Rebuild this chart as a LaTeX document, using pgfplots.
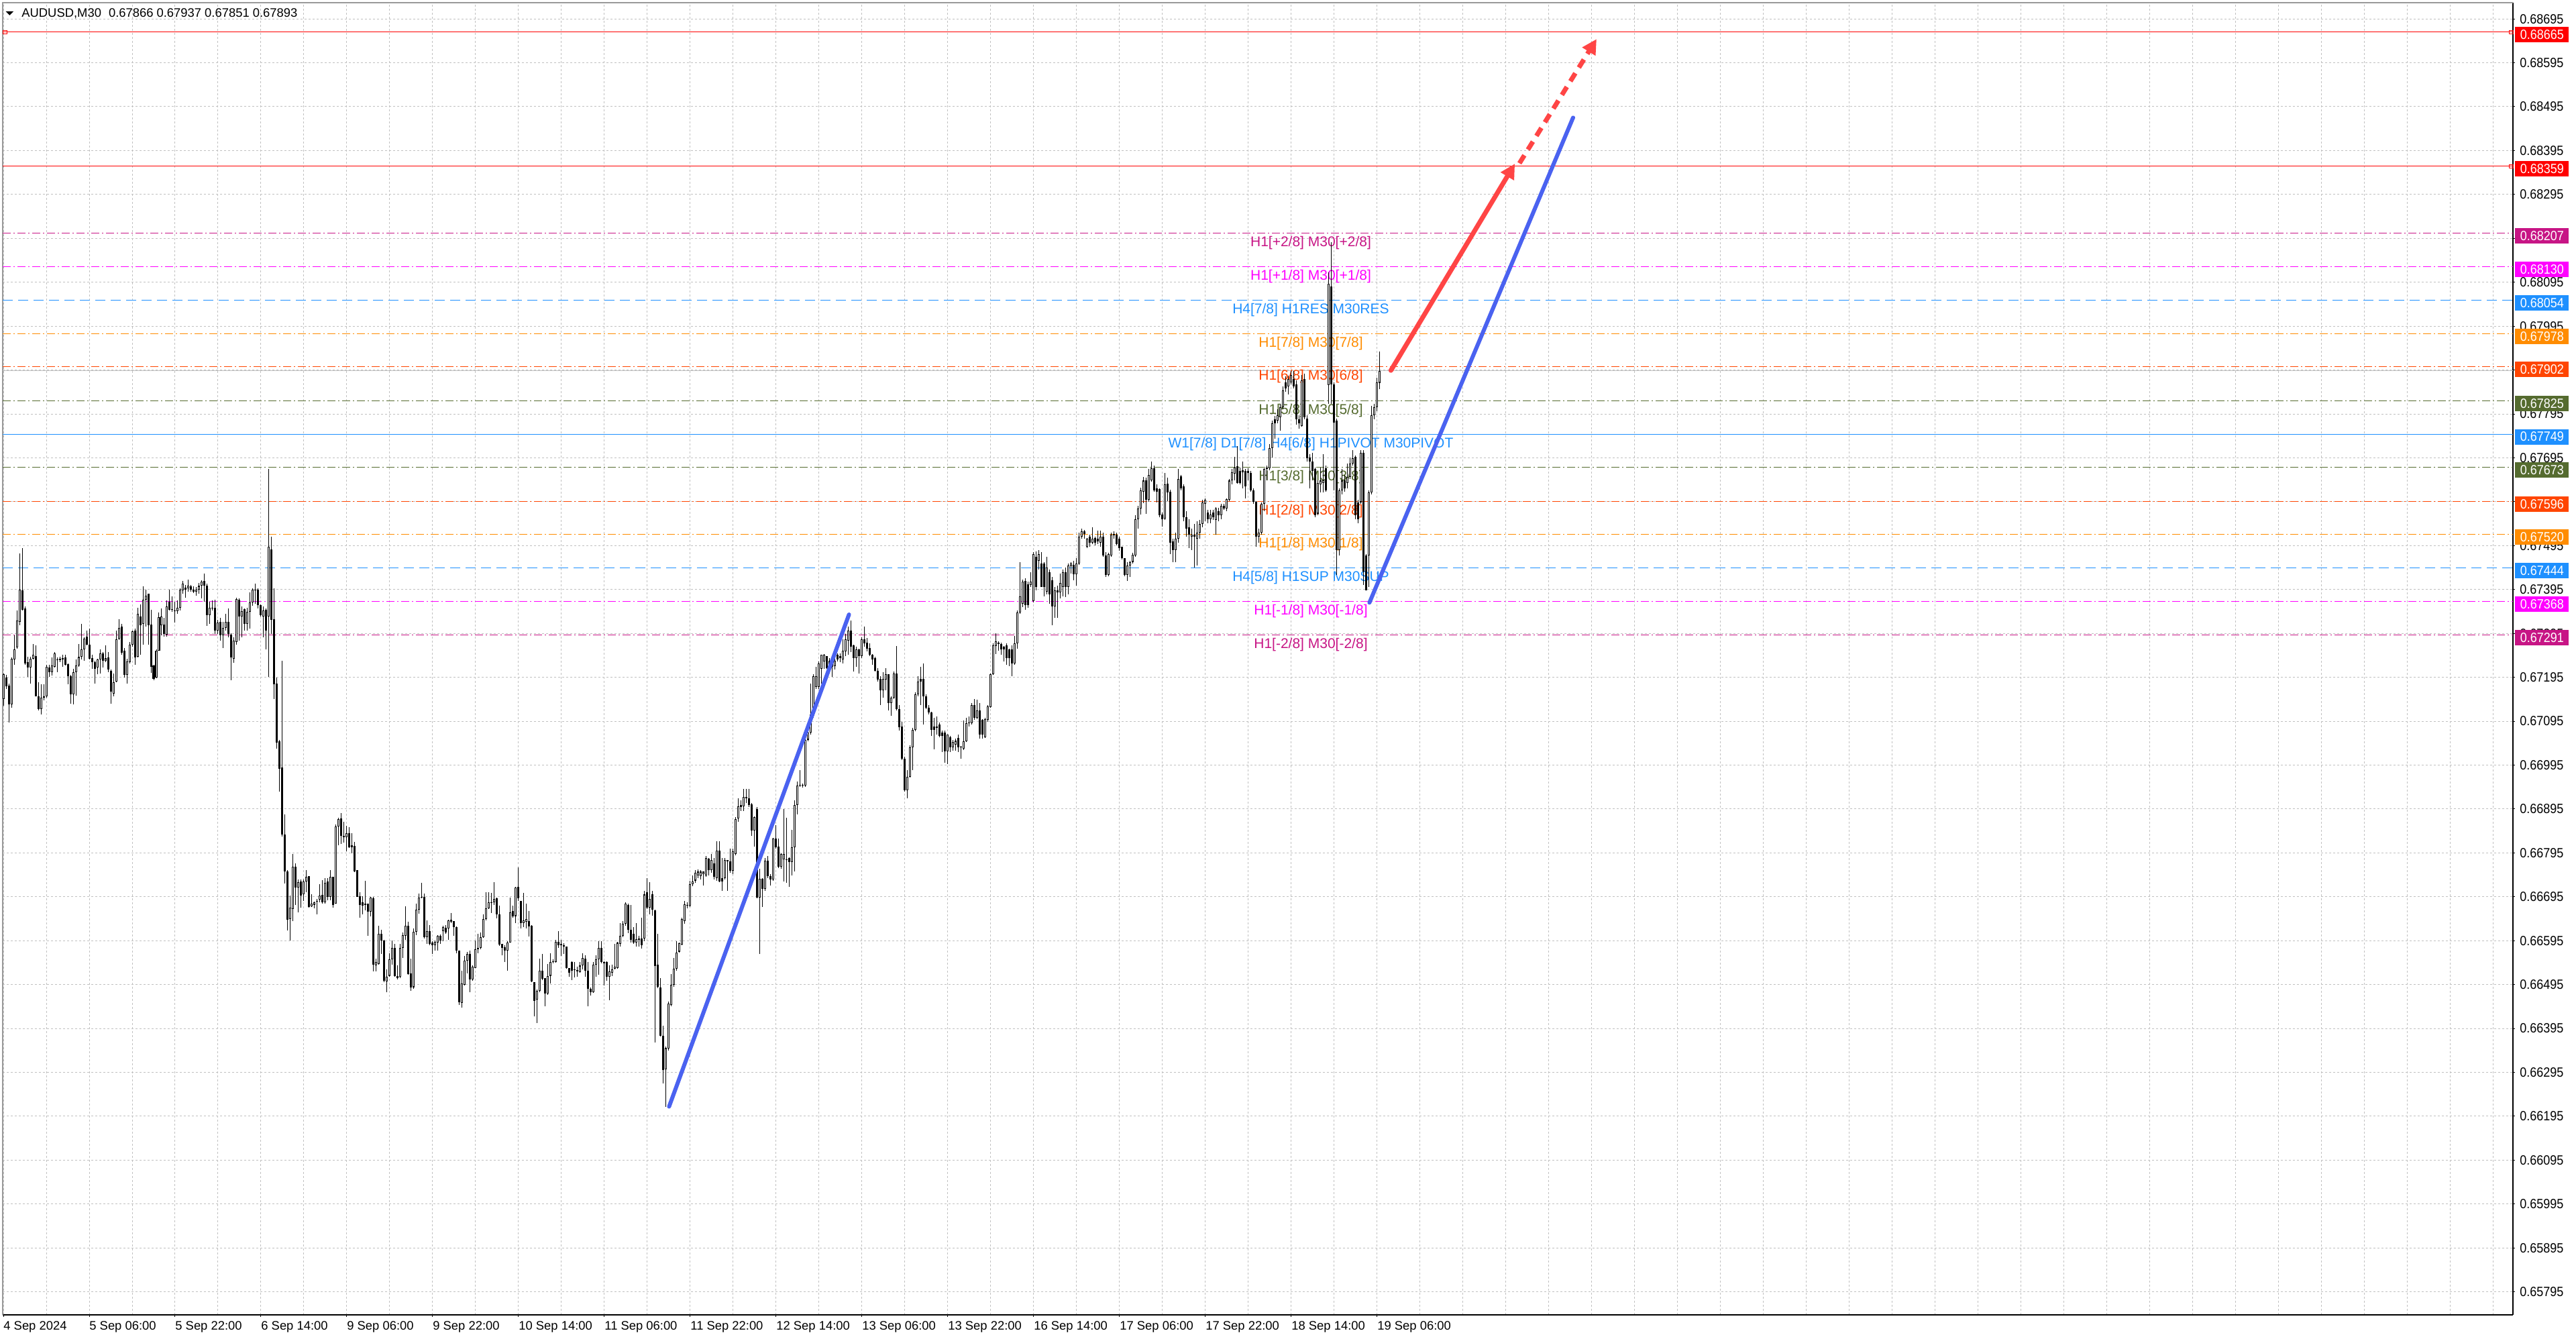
\documentclass[border=0pt]{standalone}
\usepackage{fontspec}
\setmainfont{Liberation Sans}
\newfontfamily\tickfont{Liberation Sans}[FakeStretch=0.9]
\usepackage{pgfplots}
\usepackage{pgfplotstable}
\pgfplotsset{compat=1.18}
\usetikzlibrary{arrows.meta}
\definecolor{mvred}{HTML}{C71585}
\definecolor{magl}{HTML}{FF00FF}
\definecolor{dblue}{HTML}{1E90FF}
\definecolor{dorange}{HTML}{FF8C00}
\definecolor{ored}{HTML}{FF4500}
\definecolor{olivel}{HTML}{556B2F}
\definecolor{gridc}{HTML}{C0C0C0}
\definecolor{trendred}{HTML}{FF4545}
\definecolor{trendblue}{HTML}{4A62F0}
\newcommand\lvlfont{\fontsize{10.5pt}{12pt}\selectfont}
\newcommand\tfont{\tickfont\fontsize{10pt}{12pt}\selectfont}
\pgfplotstableread{
i o h l c
1 0.67146 0.67204 0.67130 0.67202
2 0.67195 0.67201 0.67168 0.67174
3 0.67176 0.67180 0.67092 0.67133
4 0.67133 0.67240 0.67125 0.67237
5 0.67235 0.67291 0.67224 0.67259
6 0.67263 0.67347 0.67260 0.67324
7 0.67321 0.67477 0.67314 0.67394
8 0.67393 0.67490 0.67347 0.67349
9 0.67352 0.67357 0.67224 0.67227
10 0.67229 0.67242 0.67196 0.67217
11 0.67217 0.67242 0.67180 0.67237
12 0.67237 0.67271 0.67235 0.67246
13 0.67244 0.67268 0.67151 0.67152
14 0.67152 0.67184 0.67120 0.67123
15 0.67123 0.67179 0.67110 0.67148
16 0.67148 0.67179 0.67143 0.67152
17 0.67152 0.67224 0.67148 0.67219
18 0.67218 0.67224 0.67196 0.67207
19 0.67207 0.67240 0.67199 0.67222
20 0.67219 0.67252 0.67217 0.67250
21 0.67235 0.67240 0.67207 0.67234
22 0.67234 0.67242 0.67230 0.67237
23 0.67235 0.67247 0.67219 0.67239
24 0.67240 0.67247 0.67222 0.67224
25 0.67225 0.67227 0.67179 0.67198
26 0.67198 0.67201 0.67135 0.67156
27 0.67156 0.67214 0.67133 0.67207
28 0.67207 0.67235 0.67153 0.67222
29 0.67222 0.67271 0.67219 0.67241
30 0.67241 0.67317 0.67235 0.67259
31 0.67259 0.67286 0.67232 0.67283
32 0.67287 0.67301 0.67268 0.67270
33 0.67269 0.67306 0.67235 0.67237
34 0.67239 0.67247 0.67214 0.67229
35 0.67229 0.67232 0.67181 0.67214
36 0.67217 0.67237 0.67202 0.67235
37 0.67235 0.67258 0.67204 0.67250
38 0.67249 0.67252 0.67217 0.67232
39 0.67233 0.67268 0.67230 0.67238
40 0.67240 0.67252 0.67207 0.67212
41 0.67210 0.67213 0.67135 0.67163
42 0.67158 0.67204 0.67152 0.67184
43 0.67185 0.67302 0.67184 0.67281
44 0.67283 0.67327 0.67280 0.67308
45 0.67310 0.67317 0.67247 0.67251
46 0.67256 0.67261 0.67194 0.67200
47 0.67200 0.67237 0.67181 0.67231
48 0.67230 0.67275 0.67227 0.67269
49 0.67269 0.67301 0.67265 0.67300
50 0.67301 0.67306 0.67224 0.67240
51 0.67242 0.67354 0.67240 0.67340
52 0.67334 0.67361 0.67247 0.67314
53 0.67316 0.67402 0.67270 0.67372
54 0.67372 0.67394 0.67311 0.67381
55 0.67385 0.67386 0.67270 0.67314
56 0.67315 0.67349 0.67205 0.67219
57 0.67222 0.67224 0.67188 0.67191
58 0.67194 0.67259 0.67193 0.67256
59 0.67256 0.67342 0.67255 0.67332
60 0.67314 0.67352 0.67291 0.67334
61 0.67315 0.67331 0.67288 0.67293
62 0.67292 0.67370 0.67288 0.67357
63 0.67367 0.67395 0.67347 0.67349
64 0.67349 0.67380 0.67344 0.67348
65 0.67347 0.67367 0.67319 0.67346
66 0.67346 0.67370 0.67339 0.67353
67 0.67353 0.67398 0.67347 0.67394
68 0.67393 0.67414 0.67385 0.67409
69 0.67399 0.67405 0.67377 0.67395
70 0.67398 0.67418 0.67390 0.67404
71 0.67402 0.67405 0.67390 0.67394
72 0.67395 0.67402 0.67387 0.67390
73 0.67390 0.67400 0.67381 0.67395
74 0.67394 0.67410 0.67385 0.67403
75 0.67403 0.67416 0.67375 0.67413
76 0.67414 0.67432 0.67367 0.67403
77 0.67403 0.67408 0.67312 0.67337
78 0.67337 0.67367 0.67317 0.67353
79 0.67354 0.67370 0.67347 0.67352
80 0.67354 0.67372 0.67293 0.67301
81 0.67301 0.67326 0.67293 0.67320
82 0.67321 0.67331 0.67278 0.67291
83 0.67291 0.67321 0.67261 0.67308
84 0.67308 0.67339 0.67301 0.67321
85 0.67321 0.67352 0.67286 0.67293
86 0.67292 0.67296 0.67189 0.67240
87 0.67237 0.67286 0.67228 0.67279
88 0.67275 0.67376 0.67270 0.67373
89 0.67371 0.67375 0.67278 0.67334
90 0.67334 0.67357 0.67286 0.67346
91 0.67350 0.67352 0.67301 0.67317
92 0.67316 0.67354 0.67301 0.67344
93 0.67344 0.67388 0.67306 0.67366
94 0.67365 0.67398 0.67358 0.67395
95 0.67395 0.67409 0.67362 0.67393
96 0.67395 0.67398 0.67352 0.67359
97 0.67359 0.67361 0.67334 0.67337
98 0.67334 0.67357 0.67286 0.67347
99 0.67348 0.67352 0.67258 0.67301
100 0.67334 0.67669 0.67196 0.67492
101 0.67487 0.67515 0.67293 0.67326
102 0.67327 0.67398 0.67146 0.67179
103 0.67180 0.67194 0.67033 0.67046
104 0.67049 0.67052 0.66934 0.66987
105 0.66989 0.67232 0.66832 0.66837
106 0.66837 0.66882 0.66725 0.66752
107 0.66752 0.66755 0.66618 0.66642
108 0.66644 0.66698 0.66595 0.66670
109 0.66667 0.66792 0.66639 0.66763
110 0.66763 0.66771 0.66677 0.66716
111 0.66716 0.66735 0.66659 0.66728
112 0.66730 0.66735 0.66670 0.66698
113 0.66700 0.66734 0.66686 0.66730
114 0.66730 0.66756 0.66706 0.66740
115 0.66742 0.66742 0.66670 0.66672
116 0.66673 0.66700 0.66671 0.66680
117 0.66677 0.66684 0.66669 0.66683
118 0.66684 0.66690 0.66655 0.66686
119 0.66689 0.66723 0.66682 0.66697
120 0.66699 0.66733 0.66680 0.66682
121 0.66683 0.66738 0.66680 0.66727
122 0.66730 0.66738 0.66687 0.66695
123 0.66695 0.66755 0.66687 0.66740
124 0.66740 0.66740 0.66670 0.66677
125 0.66680 0.66860 0.66679 0.66855
126 0.66855 0.66875 0.66813 0.66872
127 0.66873 0.66885 0.66815 0.66833
128 0.66833 0.66866 0.66819 0.66831
129 0.66831 0.66857 0.66799 0.66840
130 0.66840 0.66854 0.66806 0.66807
131 0.66808 0.66840 0.66794 0.66812
132 0.66811 0.66820 0.66751 0.66753
133 0.66755 0.66755 0.66695 0.66695
134 0.66696 0.66706 0.66648 0.66676
135 0.66682 0.66696 0.66655 0.66675
136 0.66676 0.66731 0.66664 0.66680
137 0.66679 0.66679 0.66606 0.66661
138 0.66661 0.66694 0.66650 0.66693
139 0.66692 0.66694 0.66525 0.66540
140 0.66538 0.66554 0.66525 0.66547
141 0.66542 0.66629 0.66541 0.66611
142 0.66610 0.66620 0.66565 0.66595
143 0.66596 0.66597 0.66500 0.66503
144 0.66502 0.66529 0.66477 0.66513
145 0.66515 0.66566 0.66513 0.66552
146 0.66552 0.66595 0.66541 0.66579
147 0.66579 0.66588 0.66513 0.66515
148 0.66515 0.66538 0.66506 0.66509
149 0.66512 0.66588 0.66509 0.66579
150 0.66579 0.66614 0.66556 0.66607
151 0.66606 0.66673 0.66597 0.66629
152 0.66629 0.66638 0.66518 0.66519
153 0.66521 0.66554 0.66480 0.66489
154 0.66489 0.66623 0.66486 0.66615
155 0.66615 0.66679 0.66608 0.66666
156 0.66666 0.66702 0.66657 0.66693
157 0.66693 0.66727 0.66692 0.66695
158 0.66694 0.66702 0.66600 0.66603
159 0.66603 0.66641 0.66588 0.66617
160 0.66616 0.66630 0.66585 0.66588
161 0.66591 0.66594 0.66565 0.66585
162 0.66585 0.66595 0.66573 0.66592
163 0.66591 0.66607 0.66573 0.66606
164 0.66606 0.66609 0.66588 0.66595
165 0.66617 0.66629 0.66594 0.66626
166 0.66624 0.66630 0.66610 0.66614
167 0.66623 0.66643 0.66597 0.66641
168 0.66642 0.66658 0.66635 0.66638
169 0.66639 0.66639 0.66606 0.66626
170 0.66626 0.66628 0.66566 0.66572
171 0.66572 0.66573 0.66448 0.66455
172 0.66453 0.66526 0.66442 0.66497
173 0.66494 0.66560 0.66493 0.66550
174 0.66550 0.66570 0.66521 0.66565
175 0.66565 0.66573 0.66477 0.66506
176 0.66506 0.66538 0.66503 0.66535
177 0.66533 0.66595 0.66532 0.66575
178 0.66576 0.66611 0.66566 0.66579
179 0.66579 0.66614 0.66576 0.66603
180 0.66603 0.66655 0.66601 0.66644
181 0.66644 0.66705 0.66641 0.66669
182 0.66669 0.66705 0.66667 0.66682
183 0.66681 0.66704 0.66658 0.66683
184 0.66682 0.66728 0.66676 0.66690
185 0.66692 0.66693 0.66646 0.66655
186 0.66655 0.66675 0.66583 0.66586
187 0.66588 0.66588 0.66562 0.66579
188 0.66580 0.66585 0.66546 0.66573
189 0.66573 0.66594 0.66527 0.66591
190 0.66591 0.66693 0.66590 0.66659
191 0.66663 0.66675 0.66648 0.66651
192 0.66651 0.66717 0.66635 0.66716
193 0.66717 0.66762 0.66686 0.66692
194 0.66685 0.66686 0.66623 0.66635
195 0.66635 0.66704 0.66626 0.66641
196 0.66638 0.66679 0.66623 0.66644
197 0.66640 0.66663 0.66604 0.66628
198 0.66629 0.66630 0.66500 0.66502
199 0.66500 0.66500 0.66422 0.66458
200 0.66461 0.66484 0.66407 0.66480
201 0.66480 0.66554 0.66477 0.66527
202 0.66527 0.66564 0.66505 0.66508
203 0.66509 0.66510 0.66445 0.66474
204 0.66474 0.66542 0.66472 0.66515
205 0.66515 0.66566 0.66497 0.66547
206 0.66546 0.66553 0.66544 0.66548
207 0.66547 0.66597 0.66545 0.66592
208 0.66592 0.66617 0.66579 0.66585
209 0.66584 0.66597 0.66560 0.66588
210 0.66585 0.66589 0.66565 0.66581
211 0.66581 0.66582 0.66531 0.66532
212 0.66532 0.66532 0.66513 0.66522
213 0.66547 0.66548 0.66505 0.66526
214 0.66529 0.66547 0.66511 0.66528
215 0.66528 0.66536 0.66513 0.66525
216 0.66524 0.66547 0.66522 0.66538
217 0.66538 0.66567 0.66529 0.66556
218 0.66554 0.66562 0.66512 0.66527
219 0.66527 0.66547 0.66445 0.66486
220 0.66486 0.66489 0.66470 0.66477
221 0.66477 0.66547 0.66476 0.66541
222 0.66540 0.66562 0.66513 0.66552
223 0.66552 0.66594 0.66518 0.66578
224 0.66579 0.66594 0.66544 0.66546
225 0.66546 0.66548 0.66493 0.66544
226 0.66547 0.66548 0.66503 0.66512
227 0.66512 0.66538 0.66460 0.66525
228 0.66522 0.66540 0.66515 0.66530
229 0.66531 0.66588 0.66530 0.66536
230 0.66532 0.66592 0.66531 0.66590
231 0.66588 0.66635 0.66582 0.66606
232 0.66606 0.66640 0.66603 0.66634
233 0.66634 0.66682 0.66629 0.66679
234 0.66677 0.66679 0.66612 0.66620
235 0.66620 0.66676 0.66591 0.66597
236 0.66611 0.66626 0.66588 0.66591
237 0.66591 0.66635 0.66582 0.66599
238 0.66597 0.66606 0.66582 0.66600
239 0.66600 0.66647 0.66577 0.66585
240 0.66600 0.66708 0.66594 0.66700
241 0.66705 0.66737 0.66667 0.66670
242 0.66670 0.66728 0.66655 0.66690
243 0.66700 0.66708 0.66652 0.66665
244 0.66664 0.66665 0.66363 0.66537
245 0.66541 0.66611 0.66487 0.66490
246 0.66489 0.66510 0.66377 0.66378
247 0.66379 0.66401 0.66269 0.66300
248 0.66302 0.66354 0.66217 0.66350
249 0.66349 0.66456 0.66345 0.66452
250 0.66448 0.66519 0.66446 0.66495
251 0.66494 0.66556 0.66490 0.66531
252 0.66531 0.66593 0.66527 0.66568
253 0.66570 0.66591 0.66568 0.66589
254 0.66586 0.66647 0.66585 0.66644
255 0.66639 0.66686 0.66634 0.66678
256 0.66674 0.66682 0.66668 0.66677
257 0.66674 0.66732 0.66672 0.66724
258 0.66724 0.66744 0.66719 0.66730
259 0.66732 0.66755 0.66726 0.66749
260 0.66744 0.66757 0.66738 0.66752
261 0.66742 0.66755 0.66734 0.66752
262 0.66746 0.66752 0.66721 0.66752
263 0.66744 0.66788 0.66741 0.66784
264 0.66782 0.66784 0.66744 0.66755
265 0.66755 0.66792 0.66750 0.66779
266 0.66771 0.66784 0.66734 0.66740
267 0.66738 0.66821 0.66732 0.66800
268 0.66800 0.66821 0.66728 0.66730
269 0.66738 0.66784 0.66709 0.66730
270 0.66738 0.66784 0.66734 0.66779
271 0.66776 0.66779 0.66709 0.66778
272 0.66775 0.66804 0.66749 0.66754
273 0.66754 0.66804 0.66746 0.66798
274 0.66793 0.66876 0.66790 0.66872
275 0.66873 0.66920 0.66866 0.66901
276 0.66900 0.66915 0.66891 0.66904
277 0.66901 0.66941 0.66891 0.66923
278 0.66923 0.66941 0.66908 0.66920
279 0.66920 0.66941 0.66900 0.66904
280 0.66906 0.66908 0.66833 0.66846
281 0.66846 0.66878 0.66810 0.66876
282 0.66895 0.66900 0.66691 0.66693
283 0.66693 0.66759 0.66564 0.66736
284 0.66736 0.66737 0.66672 0.66713
285 0.66713 0.66784 0.66709 0.66777
286 0.66777 0.66788 0.66738 0.66742
287 0.66742 0.66746 0.66721 0.66735
288 0.66735 0.66829 0.66732 0.66827
289 0.66827 0.66858 0.66804 0.66808
290 0.66810 0.66827 0.66760 0.66763
291 0.66763 0.66794 0.66759 0.66792
292 0.66780 0.66895 0.66730 0.66792
293 0.66780 0.66875 0.66727 0.66778
294 0.66783 0.66785 0.66717 0.66774
295 0.66774 0.66848 0.66744 0.66808
296 0.66808 0.66915 0.66752 0.66904
297 0.66904 0.66958 0.66883 0.66949
298 0.66949 0.66984 0.66945 0.66948
299 0.66948 0.66953 0.66944 0.66949
300 0.66948 0.67057 0.66945 0.67053
301 0.67053 0.67074 0.67049 0.67069
302 0.67069 0.67181 0.67065 0.67111
303 0.67107 0.67202 0.67103 0.67198
304 0.67173 0.67219 0.67169 0.67198
305 0.67173 0.67231 0.67169 0.67227
306 0.67214 0.67246 0.67181 0.67246
307 0.67231 0.67248 0.67214 0.67246
308 0.67243 0.67243 0.67214 0.67216
309 0.67233 0.67239 0.67204 0.67214
310 0.67219 0.67235 0.67196 0.67231
311 0.67221 0.67238 0.67213 0.67233
312 0.67246 0.67249 0.67231 0.67235
313 0.67243 0.67249 0.67229 0.67238
314 0.67235 0.67282 0.67227 0.67256
315 0.67254 0.67293 0.67243 0.67281
316 0.67279 0.67310 0.67246 0.67301
317 0.67301 0.67324 0.67252 0.67264
318 0.67268 0.67270 0.67208 0.67239
319 0.67239 0.67264 0.67219 0.67258
320 0.67258 0.67260 0.67204 0.67243
321 0.67243 0.67286 0.67239 0.67282
322 0.67282 0.67310 0.67264 0.67272
323 0.67274 0.67285 0.67254 0.67260
324 0.67262 0.67272 0.67243 0.67246
325 0.67246 0.67248 0.67224 0.67235
326 0.67239 0.67241 0.67208 0.67210
327 0.67210 0.67216 0.67185 0.67190
328 0.67191 0.67198 0.67132 0.67165
329 0.67165 0.67206 0.67148 0.67191
330 0.67190 0.67216 0.67165 0.67202
331 0.67202 0.67202 0.67119 0.67136
332 0.67136 0.67152 0.67107 0.67148
333 0.67148 0.67208 0.67146 0.67204
334 0.67204 0.67266 0.67119 0.67122
335 0.67122 0.67132 0.67074 0.67082
336 0.67083 0.67094 0.67007 0.67009
337 0.67009 0.67014 0.66934 0.66937
338 0.66937 0.66984 0.66920 0.66968
339 0.66968 0.67040 0.66966 0.67036
340 0.67036 0.67079 0.66984 0.67075
341 0.67075 0.67161 0.67072 0.67156
342 0.67156 0.67198 0.67152 0.67185
343 0.67191 0.67219 0.67132 0.67185
344 0.67191 0.67227 0.67088 0.67152
345 0.67152 0.67156 0.67123 0.67125
346 0.67125 0.67132 0.67111 0.67115
347 0.67115 0.67117 0.67061 0.67075
348 0.67083 0.67103 0.67031 0.67075
349 0.67080 0.67105 0.67064 0.67083
350 0.67088 0.67092 0.67059 0.67061
351 0.67069 0.67074 0.67024 0.67061
352 0.67069 0.67074 0.67001 0.67026
353 0.67026 0.67065 0.66997 0.67064
354 0.67059 0.67061 0.67024 0.67036
355 0.67036 0.67053 0.67028 0.67047
356 0.67042 0.67055 0.67028 0.67050
357 0.67057 0.67064 0.67024 0.67036
358 0.67037 0.67039 0.67009 0.67035
359 0.67032 0.67097 0.67030 0.67049
360 0.67049 0.67103 0.67047 0.67090
361 0.67092 0.67105 0.67083 0.67090
362 0.67090 0.67136 0.67088 0.67132
363 0.67132 0.67146 0.67098 0.67103
364 0.67103 0.67144 0.67100 0.67119
365 0.67119 0.67136 0.67055 0.67065
366 0.67098 0.67100 0.67055 0.67065
367 0.67059 0.67103 0.67057 0.67100
368 0.67098 0.67132 0.67094 0.67129
369 0.67127 0.67204 0.67125 0.67202
370 0.67202 0.67272 0.67200 0.67268
371 0.67266 0.67296 0.67248 0.67277
372 0.67274 0.67277 0.67256 0.67271
373 0.67271 0.67274 0.67246 0.67258
374 0.67264 0.67266 0.67231 0.67258
375 0.67268 0.67272 0.67224 0.67238
376 0.67258 0.67260 0.67221 0.67238
377 0.67258 0.67268 0.67198 0.67227
378 0.67227 0.67289 0.67224 0.67272
379 0.67272 0.67347 0.67260 0.67343
380 0.67343 0.67458 0.67340 0.67380
381 0.67362 0.67418 0.67355 0.67413
382 0.67415 0.67420 0.67349 0.67359
383 0.67407 0.67413 0.67354 0.67359
384 0.67405 0.67434 0.67401 0.67413
385 0.67369 0.67480 0.67366 0.67476
386 0.67470 0.67482 0.67393 0.67400
387 0.67460 0.67485 0.67441 0.67476
388 0.67454 0.67480 0.67401 0.67401
389 0.67454 0.67458 0.67379 0.67401
390 0.67390 0.67469 0.67384 0.67445
391 0.67435 0.67441 0.67362 0.67384
392 0.67416 0.67423 0.67314 0.67357
393 0.67357 0.67401 0.67331 0.67393
394 0.67393 0.67404 0.67331 0.67388
395 0.67388 0.67432 0.67375 0.67410
396 0.67401 0.67441 0.67379 0.67434
397 0.67434 0.67445 0.67378 0.67401
398 0.67401 0.67454 0.67384 0.67450
399 0.67448 0.67458 0.67432 0.67454
400 0.67451 0.67460 0.67416 0.67430
401 0.67430 0.67467 0.67404 0.67454
402 0.67454 0.67524 0.67451 0.67515
403 0.67515 0.67533 0.67511 0.67527
404 0.67527 0.67530 0.67511 0.67522
405 0.67492 0.67513 0.67489 0.67511
406 0.67515 0.67520 0.67492 0.67502
407 0.67502 0.67536 0.67498 0.67511
408 0.67513 0.67515 0.67495 0.67502
409 0.67511 0.67529 0.67498 0.67504
410 0.67502 0.67529 0.67493 0.67515
411 0.67515 0.67524 0.67469 0.67472
412 0.67472 0.67480 0.67423 0.67428
413 0.67428 0.67478 0.67425 0.67476
414 0.67472 0.67524 0.67469 0.67520
415 0.67522 0.67527 0.67511 0.67518
416 0.67520 0.67524 0.67495 0.67498
417 0.67511 0.67515 0.67483 0.67489
418 0.67492 0.67493 0.67463 0.67467
419 0.67467 0.67467 0.67425 0.67428
420 0.67428 0.67458 0.67415 0.67450
421 0.67450 0.67460 0.67423 0.67458
422 0.67458 0.67478 0.67454 0.67474
423 0.67472 0.67564 0.67469 0.67555
424 0.67555 0.67586 0.67533 0.67580
425 0.67580 0.67627 0.67566 0.67621
426 0.67618 0.67652 0.67592 0.67643
427 0.67643 0.67650 0.67568 0.67599
428 0.67599 0.67669 0.67595 0.67656
429 0.67643 0.67687 0.67641 0.67671
430 0.67671 0.67678 0.67618 0.67621
431 0.67625 0.67634 0.67594 0.67618
432 0.67624 0.67625 0.67559 0.67564
433 0.67566 0.67571 0.67539 0.67555
434 0.67557 0.67660 0.67553 0.67634
435 0.67636 0.67650 0.67597 0.67616
436 0.67618 0.67623 0.67476 0.67502
437 0.67504 0.67511 0.67457 0.67485
438 0.67485 0.67524 0.67458 0.67511
439 0.67511 0.67669 0.67502 0.67647
440 0.67653 0.67656 0.67621 0.67625
441 0.67630 0.67634 0.67551 0.67559
442 0.67559 0.67573 0.67515 0.67533
443 0.67536 0.67555 0.67489 0.67520
444 0.67515 0.67533 0.67485 0.67520
445 0.67520 0.67544 0.67445 0.67515
446 0.67511 0.67551 0.67450 0.67524
447 0.67524 0.67553 0.67511 0.67544
448 0.67544 0.67599 0.67537 0.67594
449 0.67590 0.67603 0.67551 0.67599
450 0.67571 0.67577 0.67546 0.67555
451 0.67555 0.67577 0.67546 0.67566
452 0.67571 0.67576 0.67553 0.67559
453 0.67553 0.67583 0.67520 0.67580
454 0.67574 0.67581 0.67551 0.67564
455 0.67564 0.67590 0.67555 0.67586
456 0.67586 0.67590 0.67577 0.67580
457 0.67580 0.67603 0.67574 0.67601
458 0.67599 0.67647 0.67597 0.67643
459 0.67643 0.67669 0.67634 0.67662
460 0.67659 0.67697 0.67643 0.67673
461 0.67676 0.67722 0.67636 0.67638
462 0.67665 0.67673 0.67634 0.67638
463 0.67667 0.67687 0.67625 0.67662
464 0.67665 0.67669 0.67603 0.67630
465 0.67665 0.67671 0.67643 0.67660
466 0.67660 0.67665 0.67618 0.67621
467 0.67621 0.67625 0.67590 0.67595
468 0.67595 0.67596 0.67492 0.67515
469 0.67515 0.67533 0.67502 0.67524
470 0.67524 0.67594 0.67520 0.67590
471 0.67590 0.67671 0.67573 0.67669
472 0.67669 0.67678 0.67643 0.67673
473 0.67671 0.67726 0.67667 0.67717
474 0.67717 0.67779 0.67695 0.67774
475 0.67783 0.67790 0.67739 0.67774
476 0.67779 0.67805 0.67774 0.67792
477 0.67788 0.67818 0.67757 0.67810
478 0.67810 0.67858 0.67805 0.67849
479 0.67867 0.67880 0.67845 0.67853
480 0.67858 0.67882 0.67840 0.67875
481 0.67867 0.67893 0.67862 0.67884
482 0.67875 0.67893 0.67853 0.67858
483 0.67862 0.67871 0.67770 0.67783
484 0.67783 0.67792 0.67761 0.67774
485 0.67767 0.67884 0.67766 0.67871
486 0.67875 0.67887 0.67783 0.67788
487 0.67785 0.67792 0.67687 0.67694
488 0.67695 0.67704 0.67625 0.67687
489 0.67687 0.67706 0.67643 0.67665
490 0.67669 0.67673 0.67559 0.67564
491 0.67568 0.67643 0.67564 0.67638
492 0.67634 0.67673 0.67616 0.67643
493 0.67638 0.67704 0.67616 0.67644
494 0.67671 0.67678 0.67618 0.67621
495 0.67860 0.68117 0.67818 0.68091
496 0.68086 0.68187 0.67818 0.67862
497 0.67862 0.67867 0.67621 0.67775
498 0.67779 0.67785 0.67428 0.67485
499 0.67485 0.67625 0.67472 0.67621
500 0.67621 0.67669 0.67612 0.67643
501 0.67643 0.67656 0.67618 0.67625
502 0.67638 0.67682 0.67625 0.67652
503 0.67652 0.67695 0.67647 0.67682
504 0.67682 0.67713 0.67678 0.67694
505 0.67697 0.67700 0.67555 0.67564
506 0.67594 0.67599 0.67546 0.67555
507 0.67594 0.67713 0.67590 0.67706
508 0.67706 0.67713 0.67406 0.67436
509 0.67472 0.67476 0.67393 0.67393
510 0.67472 0.67621 0.67401 0.67616
511 0.67616 0.67814 0.67612 0.67792
512 0.67792 0.67818 0.67783 0.67810
513 0.67810 0.67878 0.67801 0.67867
514 0.67866 0.67937 0.67851 0.67893
}\candles
\begin{document}
\begin{tikzpicture}
\path[use as bounding box] (0,0) rectangle (1920pt,998pt);
\begin{axis}[
  at={(2pt,18pt)}, anchor=south west,
  scale only axis, width=1871pt, height=978pt,
  xmin=0.75, xmax=936.25, ymin=0.657425, ymax=0.687319,
  clip mode=individual,
  axis x line*=bottom, axis y line*=right,
  x axis line style={-, line width=0.6pt, black},
  y axis line style={-, line width=0.6pt, black},
  xtick pos=left, ytick pos=right, yticklabel pos=right,
  tick align=outside, major tick length=1.5pt, minor tick length=0pt,
  tick style={black, line width=0.5pt},
  xtick={1,33,65,97,129,161,193,225,257,289,321,353,385,417,449,481,513},
  xticklabels={4 Sep 2024,5 Sep 06:00,5 Sep 22:00,6 Sep 14:00,9 Sep 06:00,9 Sep 22:00,10 Sep 14:00,11 Sep 06:00,11 Sep 22:00,12 Sep 14:00,13 Sep 06:00,13 Sep 22:00,16 Sep 14:00,17 Sep 06:00,17 Sep 22:00,18 Sep 14:00,19 Sep 06:00},
  minor xtick={1,17,...,929},
  ytick={0.65795,0.65895,0.65995,0.66095,0.66195,0.66295,0.66395,0.66495,0.66595,0.66695,0.66795,0.66895,0.66995,0.67095,0.67195,0.67295,0.67395,0.67495,0.67595,0.67695,0.67795,0.67895,0.67995,0.68095,0.68195,0.68295,0.68395,0.68495,0.68595,0.68695},
  yticklabels={0.65795,0.65895,0.65995,0.66095,0.66195,0.66295,0.66395,0.66495,0.66595,0.66695,0.66795,0.66895,0.66995,0.67095,0.67195,0.67295,0.67395,0.67495,0.67595,0.67695,0.67795,0.67895,0.67995,0.68095,0.68195,0.68295,0.68395,0.68495,0.68595,0.68695},
  xmajorgrids, xminorgrids, ymajorgrids,
  grid style={gridc, dash pattern=on 1.5pt off 1.5pt, line width=0.5pt},
  minor grid style={gridc, dash pattern=on 1.5pt off 1.5pt, line width=0.5pt},
  yticklabel style={font=\tfont, anchor=west, inner sep=0pt, xshift=3.5pt},
  xticklabel style={font=\fontsize{9.2pt}{11pt}\selectfont, anchor=base west, inner sep=0pt, yshift=-10pt},
  lvdd/.style={line width=0.5pt, dash pattern=on 6pt off 2pt on 1pt off 2pt, forget plot},
  lvd/.style={line width=0.5pt, dash pattern=on 7.5pt off 4pt, forget plot},
  lvs/.style={line width=0.5pt, forget plot},
]
% borders grey (top, left)
\draw[gray!80, line width=0.6pt] (rel axis cs:0,0) -- (rel axis cs:0,1) -- (rel axis cs:1,1);
% level lines
\addplot[lvs, red] coordinates {(0.75,0.68665) (936.25,0.68665)};
\addplot[lvs, red] coordinates {(0.75,0.68359) (936.25,0.68359)};
\addplot[lvdd, mvred] coordinates {(0.75,0.68207) (936.25,0.68207)};
\addplot[lvdd, magl] coordinates {(0.75,0.68130) (936.25,0.68130)};
\addplot[lvd, dblue] coordinates {(0.75,0.68054) (936.25,0.68054)};
\addplot[lvdd, dorange] coordinates {(0.75,0.67978) (936.25,0.67978)};
\addplot[lvdd, ored] coordinates {(0.75,0.67902) (936.25,0.67902)};
\addplot[lvs, gridc] coordinates {(0.75,0.67893) (936.25,0.67893)};
\addplot[lvdd, olivel] coordinates {(0.75,0.67825) (936.25,0.67825)};
\addplot[lvs, dblue] coordinates {(0.75,0.67749) (936.25,0.67749)};
\addplot[lvdd, olivel] coordinates {(0.75,0.67673) (936.25,0.67673)};
\addplot[lvdd, ored] coordinates {(0.75,0.67596) (936.25,0.67596)};
\addplot[lvdd, dorange] coordinates {(0.75,0.67520) (936.25,0.67520)};
\addplot[lvd, dblue] coordinates {(0.75,0.67444) (936.25,0.67444)};
\addplot[lvdd, magl] coordinates {(0.75,0.67368) (936.25,0.67368)};
\addplot[lvdd, mvred] coordinates {(0.75,0.67291) (936.25,0.67291)};
\addplot[red, only marks, mark=square, mark size=1.3pt, mark options={fill=white, line width=0.4pt}, forget plot] coordinates {(1.6,0.68665) (935.6,0.68665) (935.6,0.68359)};
% level labels
\begin{scope}[every node/.style={font=\lvlfont, anchor=base, inner sep=0pt, yshift=-10pt}]
\node[text=mvred] at (axis cs:488.25,0.68207) {H1[+2/8] M30[+2/8]};
\node[text=magl] at (axis cs:488.25,0.68130) {H1[+1/8] M30[+1/8]};
\node[text=dblue] at (axis cs:488.25,0.68054) {H4[7/8] H1RES M30RES};
\node[text=dorange] at (axis cs:488.25,0.67978) {H1[7/8] M30[7/8]};
\node[text=ored] at (axis cs:488.25,0.67902) {H1[6/8] M30[6/8]};
\node[text=olivel] at (axis cs:488.25,0.67825) {H1[5/8] M30[5/8]};
\node[text=dblue] at (axis cs:488.25,0.67749) {W1[7/8] D1[7/8] H4[6/8] H1PIVOT M30PIVOT};
\node[text=olivel] at (axis cs:488.25,0.67673) {H1[3/8] M30[3/8]};
\node[text=ored] at (axis cs:488.25,0.67596) {H1[2/8] M30[2/8]};
\node[text=dorange] at (axis cs:488.25,0.67520) {H1[1/8] M30[1/8]};
\node[text=dblue] at (axis cs:488.25,0.67444) {H4[5/8] H1SUP M30SUP};
\node[text=magl] at (axis cs:488.25,0.67368) {H1[-1/8] M30[-1/8]};
\node[text=mvred] at (axis cs:488.25,0.67291) {H1[-2/8] M30[-2/8]};
\end{scope}
% candles: wicks
\addplot[draw=none, mark=none, forget plot, error bars/.cd, y dir=plus, y explicit, error mark=none, error bar style={draw=black, solid, line width=0.5pt}]
  table[x=i, y=l, y error plus expr={\thisrow{h}-\thisrow{l}}] {\candles};
% bodies
\addplot[draw=none, mark=none, forget plot, error bars/.cd, y dir=plus, y explicit, error mark=none, error bar style={draw=black, solid, line width=1.5pt}]
  table[x=i, y expr={min(\thisrow{o},\thisrow{c})}, y error plus expr={max(abs(\thisrow{c}-\thisrow{o}),0.000016)}] {\candles};
% hollow bull bodies
\addplot[draw=none, mark=none, forget plot, error bars/.cd, y dir=plus, y explicit, error mark=none, error bar style={draw=white, solid, line width=0.5pt}]
  table[x=i, y expr={(\thisrow{c}>\thisrow{o}+0.00004) ? (\thisrow{o}+0.000016) : (\thisrow{c})}, y error plus expr={(\thisrow{c}>\thisrow{o}+0.00004) ? (\thisrow{c}-\thisrow{o}-0.000032) : 0}] {\candles};
% trend lines
\addplot[trendblue, line width=3pt, line cap=round, forget plot] coordinates {(249.1,0.66217) (316.15,0.67338)};
\addplot[trendblue, line width=3pt, line cap=round, forget plot] coordinates {(510.1,0.67365) (586.0,0.68470)};
\addplot[trendred, line width=3.5pt, line cap=round, -{Triangle[length=11pt,width=11pt]}, forget plot] coordinates {(518.1,0.67894) (564.3,0.68365)};
\addplot[trendred, line width=3.5pt, dash pattern=on 7pt off 5pt, -{Triangle[length=11pt,width=11pt]}, forget plot] coordinates {(566.0,0.68366) (594.75,0.68649)};
% coordinates for price boxes
\coordinate (b1) at (axis cs:936.25,0.68665);
\coordinate (b2) at (axis cs:936.25,0.68359);
\coordinate (b3) at (axis cs:936.25,0.68207);
\coordinate (b4) at (axis cs:936.25,0.68130);
\coordinate (b5) at (axis cs:936.25,0.68054);
\coordinate (b6) at (axis cs:936.25,0.67978);
\coordinate (b7) at (axis cs:936.25,0.67902);
\coordinate (b8) at (axis cs:936.25,0.67825);
\coordinate (b9) at (axis cs:936.25,0.67749);
\coordinate (b10) at (axis cs:936.25,0.67673);
\coordinate (b11) at (axis cs:936.25,0.67596);
\coordinate (b12) at (axis cs:936.25,0.67520);
\coordinate (b13) at (axis cs:936.25,0.67444);
\coordinate (b14) at (axis cs:936.25,0.67368);
\coordinate (b15) at (axis cs:936.25,0.67291);
\end{axis}
\begin{scope}[every node/.style={anchor=west, inner sep=0pt, minimum width=40pt, minimum height=11.5pt, text=white, font=\tfont, xshift=1.5pt, yshift=-2pt}]
\node[fill=red] at (b1) {0.68665};
\node[fill=red] at (b2) {0.68359};
\node[fill=mvred] at (b3) {0.68207};
\node[fill=magl] at (b4) {0.68130};
\node[fill=dblue] at (b5) {0.68054};
\node[fill=dorange] at (b6) {0.67978};
\node[fill=ored] at (b7) {0.67902};
\node[fill=olivel] at (b8) {0.67825};
\node[fill=dblue] at (b9) {0.67749};
\node[fill=olivel] at (b10) {0.67673};
\node[fill=ored] at (b11) {0.67596};
\node[fill=dorange] at (b12) {0.67520};
\node[fill=dblue] at (b13) {0.67444};
\node[fill=magl] at (b14) {0.67368};
\node[fill=mvred] at (b15) {0.67291};
\end{scope}
% title
\fill[black] (4.2pt,989.6pt) -- (10.2pt,989.6pt) -- (7.2pt,986.6pt) -- cycle;
\node[anchor=base west, inner sep=0pt, font=\fontsize{9.2pt}{11pt}\selectfont] at (16pt,985pt) {AUDUSD,M30\hspace{0.6em}0.67866 0.67937 0.67851 0.67893};
\end{tikzpicture}
\end{document}
